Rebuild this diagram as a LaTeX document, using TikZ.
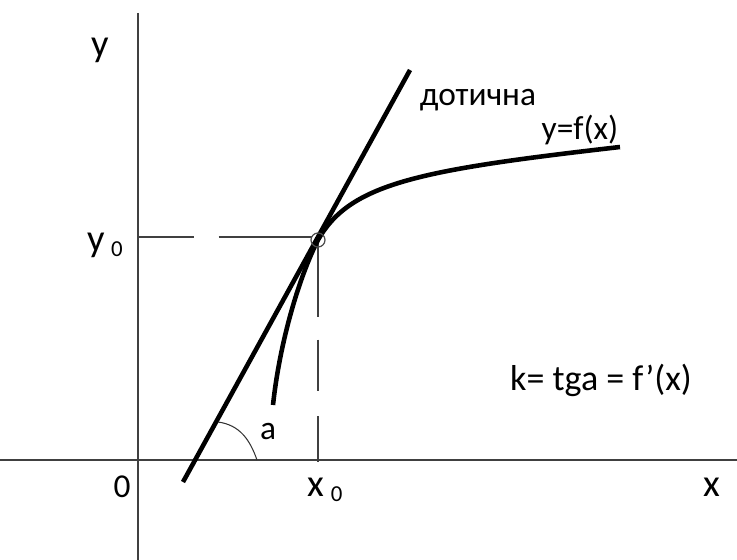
\documentclass[tikz,border=0pt]{standalone}
\usepackage{fontspec}
\setmainfont{Carlito}
\usetikzlibrary{positioning}

\newcommand{\subnull}{{\fontsize{13}{13}\selectfont\raisebox{-0.5ex}{0}}}

\begin{document}
\begin{tikzpicture}[x=0.02cm, y=-0.02cm,
  axis/.style={draw=black!75, line width=0.8pt},
  guide/.style={draw=black!75, line width=0.7pt},
  thickline/.style={line width=2.6pt},
  every node/.style={inner sep=0pt, font=\fontsize{19}{22}\selectfont}]
\useasboundingbox (0,0) rectangle (737,560);
\coordinate (ytop) at (138,13);
\coordinate (ybot) at (138,560);
\coordinate (xleft) at (0,460);
\coordinate (xright) at (737,460);
\coordinate (t1) at (183,482);
\coordinate (t2) at (410,70);
\coordinate (P) at (318,240);
\coordinate (c0) at (273,405);
\coordinate (c1) at (620,147);
\coordinate (y0) at (138,237);
\coordinate (py) at (312,237);
\coordinate (x0) at (318,462);
\coordinate (a1) at (218,422);
\coordinate (a2) at (257,460);
\draw[axis] (ytop) -- (ybot);
\draw[axis] (xleft) -- (xright);
\draw[guide, dash pattern=on 31.7pt off 14.2pt on 100pt] (y0) -- (py);
\draw[guide, dash pattern=on 43.7pt off 13pt on 29.5pt off 14.2pt on 40pt] (P) -- (x0);
\draw[thickline] (t1) -- (t2);
\draw[thickline] (c0) .. controls (280,340) and (300,275) .. (P) .. controls (350,183) and (420,170) .. (c1);
\draw[black!70, line width=0.7pt] (P) circle (7);
\draw[black!80, line width=0.6pt] (a1) .. controls (240,425) and (250,440) .. (a2);
\node[font=\fontsize{22}{24}\selectfont] (ylab) at (100,50) {y};
\node[font=\fontsize{22}{24}\selectfont] (y0lab) at (105,245) {y\,\subnull};
\node (zero) at (122,487) {0};
\node[font=\fontsize{22}{24}\selectfont] (x0lab) at (325,490) {x\,\subnull};
\node[font=\fontsize{22}{24}\selectfont] (xlab) at (712,487) {x};
\node (alab) at (268,432) {a};
\node (tangent) at (478,100) {дотична};
\node (func) at (580,130) {y=f(x)};
\node[font=\fontsize{20.5}{23}\selectfont] (slope) at (601,380) {k= tga = f'(x)};
\end{tikzpicture}
\end{document}
